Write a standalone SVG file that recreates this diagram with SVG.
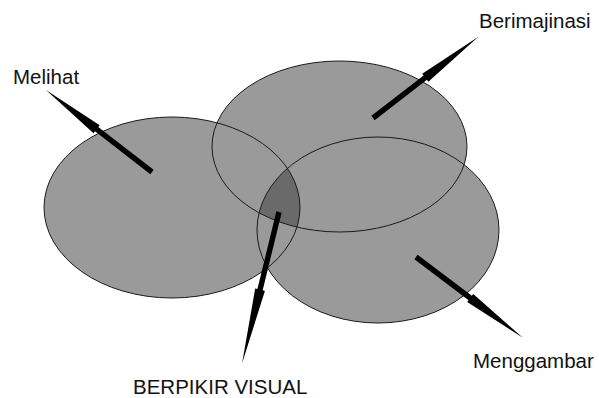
<svg xmlns="http://www.w3.org/2000/svg" width="599" height="398" viewBox="0 0 599 398">
  <style>
    .fill { fill: #9a9a9a; stroke: none; }
    .outline { fill: none; stroke: #1a1a1a; stroke-width: 1; }
    .dark { fill: #6a6a6a; }
    .arrow { fill: #000; stroke: none; }
    .label { font-family: "Liberation Sans", Arial, sans-serif; font-size: 20.5px; fill: #111; }
  </style>
  <defs>
    <clipPath id="clipLeft"><ellipse cx="172" cy="207.5" rx="128" ry="90.5"/></clipPath>
    <clipPath id="clipTop"><ellipse cx="339.5" cy="146.5" rx="127.5" ry="85.5"/></clipPath>
  </defs>
  <rect width="599" height="398" fill="#fff"/>
  <g id="fills">
    <ellipse class="fill" cx="172" cy="207.5" rx="128" ry="90.5"/>
    <ellipse class="fill" cx="339.5" cy="146.5" rx="127.5" ry="85.5"/>
    <ellipse class="fill" cx="378" cy="230" rx="121" ry="93"/>
    <g clip-path="url(#clipLeft)"><g clip-path="url(#clipTop)"><ellipse class="dark" cx="378" cy="230" rx="121" ry="93"/></g></g>
  </g>
  <g id="melihat-circle"><ellipse class="outline" cx="172" cy="207.5" rx="128" ry="90.5"/></g>
  <g id="berimajinasi-circle"><ellipse class="outline" cx="339.5" cy="146.5" rx="127.5" ry="85.5"/></g>
  <g id="menggambar-circle"><ellipse class="outline" cx="378" cy="230" rx="121" ry="93"/></g>
  <g id="connectors">
    <path class="arrow" transform="translate(152,172) rotate(-142.3)" d="M0,-2.7 L70,-2.7 L70,-5 L134,0 L70,5 L70,2.7 L0,2.7 Z"/>
    <path class="arrow" transform="translate(373,118) rotate(-37.6)" d="M0,-2.7 L66,-2.7 L66,-5 L133,0 L66,5 L66,2.7 L0,2.7 Z"/>
    <path class="arrow" transform="translate(279,212) rotate(103.7)" d="M0,-2.7 L80,-2.7 L80,-5 L156,0 L80,5 L80,2.7 L0,2.7 Z"/>
    <path class="arrow" transform="translate(416,257) rotate(37.1)" d="M0,-2.7 L68,-2.7 L68,-5 L134,0 L68,5 L68,2.7 L0,2.7 Z"/>
  </g>
  <g id="label-melihat"><text class="label" x="13" y="84">Melihat</text></g>
  <g id="label-berimajinasi"><text class="label" x="479" y="28">Berimajinasi</text></g>
  <g id="label-menggambar"><text class="label" x="473" y="368">Menggambar</text></g>
  <g id="label-berpikir"><text class="label" x="133" y="394">BERPIKIR VISUAL</text></g>
</svg>
